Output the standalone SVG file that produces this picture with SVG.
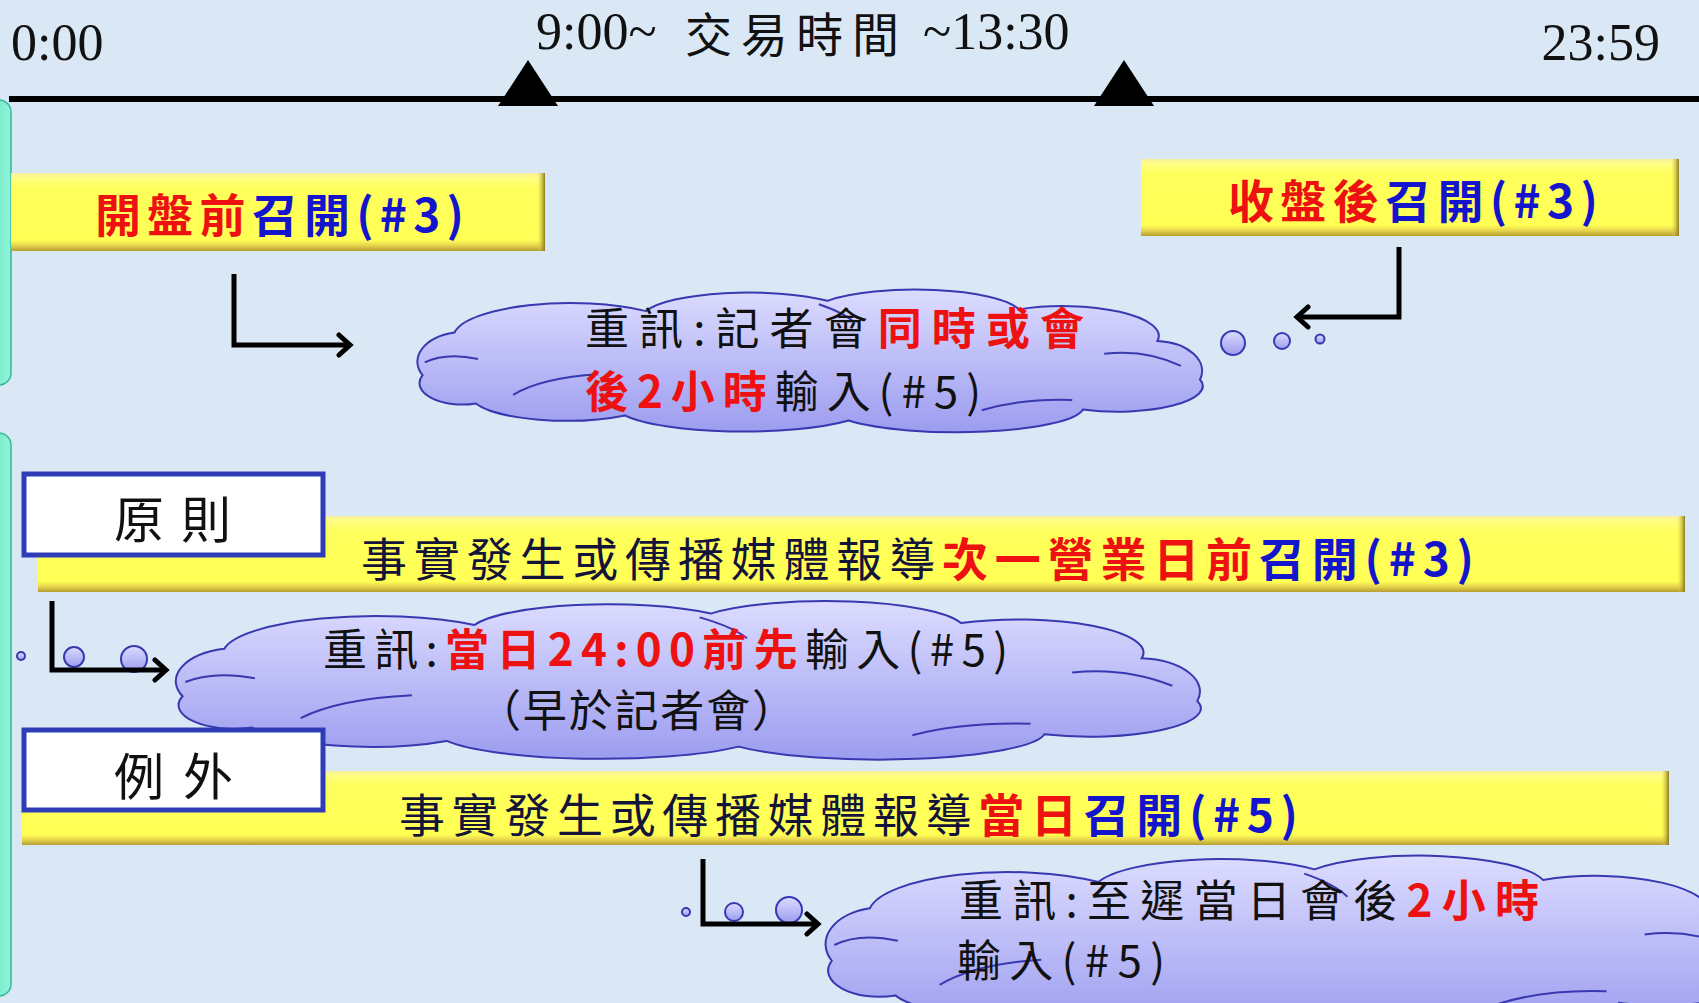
<svg xmlns="http://www.w3.org/2000/svg" width="1699" height="1003" viewBox="0 0 1699 1003">
<style>
.lat{font-family:"Liberation Serif","Times New Roman",serif;fill:#111}
.cj{font-family:"Noto Sans CJK TC","Noto Sans CJK SC",sans-serif}
.red{fill:#ee1111}
.blue{fill:#1414cc}
.blk{fill:#111}
.navy{fill:#14143a}
.conn{fill:none;stroke:#000;stroke-width:5}
.lbl{fill:#fff;stroke:#2f3cb8;stroke-width:5}
.bub{fill:url(#cloudfill);stroke:#3838b0;stroke-width:2}
</style>
<defs>
<linearGradient id="cloudfill" x1="0" y1="0" x2="0" y2="1">
<stop offset="0" stop-color="#dcdcff"/>
<stop offset="1" stop-color="#9c9cf0"/>
</linearGradient>
<linearGradient id="teal" x1="0" y1="0" x2="1" y2="0">
<stop offset="0" stop-color="#5fe0bd"/>
<stop offset="1" stop-color="#8ff5d8"/>
</linearGradient>
<linearGradient id="ybar" x1="0" y1="0" x2="0" y2="1">
<stop offset="0" stop-color="#f6f0a0"/>
<stop offset="0.07" stop-color="#ffff80"/>
<stop offset="0.2" stop-color="#ffff5c"/>
<stop offset="0.86" stop-color="#ffff55"/>
<stop offset="0.93" stop-color="#e6d44e"/>
<stop offset="1" stop-color="#b59e30"/>
</linearGradient>
<linearGradient id="yedge" x1="0" y1="0" x2="1" y2="0">
<stop offset="0" stop-color="#e8dc50" stop-opacity="0"/>
<stop offset="1" stop-color="#8a7a20"/>
</linearGradient>
<path id="cloud" vector-effect="non-scaling-stroke" d="M 40,95 A 45 35 0 0 1 70,45 A 110 40 0 0 1 250,20 A 100 30 0 0 1 420,8 A 100 30 0 0 1 600,18 A 90 35 0 0 1 730,55 A 45 35 0 0 1 770,100 A 80 30 0 0 1 660,135 A 120 30 0 0 1 440,148 A 120 30 0 0 1 230,142 A 90 30 0 0 1 90,128 A 40 25 0 0 1 40,95 Z"/>
<path id="cloudin" vector-effect="non-scaling-stroke" fill="none" d="M 42,80 Q 62,68 92,76 M 125,118 Q 152,98 205,94 M 680,70 Q 718,64 752,84 M 565,136 Q 602,122 650,124 M 412,12 Q 436,22 446,34"/>
<marker id="chev" markerWidth="18" markerHeight="26" refX="14" refY="13" orient="auto" markerUnits="userSpaceOnUse">
<path d="M3,3 L14,13 L3,23" fill="none" stroke="#000" stroke-width="5" stroke-linecap="round"/>
</marker>
</defs>
<rect width="1699" height="1003" fill="#dae8f6"/>

<g id="side-panels">
<rect x="-20" y="100" width="31" height="285" rx="12" fill="url(#teal)" stroke="#36b898" stroke-width="1.5"/>
<rect x="-20" y="433" width="31" height="563" rx="12" fill="url(#teal)" stroke="#36b898" stroke-width="1.5"/>
</g>

<g id="timeline">
<line x1="9" y1="99" x2="1699" y2="99" stroke="#000" stroke-width="6"/>
<polygon points="498,106 528,60 558,106" fill="#000"/>
<polygon points="1094,106 1124,60 1154,106" fill="#000"/>
<text class="lat" x="11" y="60" font-size="52">0:00</text>
<text class="lat" x="1660" y="60" font-size="52" text-anchor="end">23:59</text>
<text class="lat" x="536" y="49" font-size="52">9:00~</text>
<text class="cj blk" x="685" y="52" font-size="47" textLength="214" lengthAdjust="spacing">交易時間</text>
<text class="lat" x="923" y="49" font-size="52">~13:30</text>
</g>

<g id="box-open">
<rect x="11" y="173" width="534" height="78" fill="url(#ybar)"/>
<rect x="537" y="173" width="8" height="78" fill="url(#yedge)"/>
<text class="cj" x="95" y="232" font-size="46" font-weight="bold" textLength="369" lengthAdjust="spacing"><tspan class="red">開盤前</tspan><tspan class="blue">召開(#3)</tspan></text>
</g>

<g id="box-close">
<rect x="1141" y="159" width="538" height="77" fill="url(#ybar)"/>
<rect x="1671" y="159" width="8" height="77" fill="url(#yedge)"/>
<text class="cj" x="1228" y="218" font-size="46" font-weight="bold" textLength="370" lengthAdjust="spacing"><tspan class="red">收盤後</tspan><tspan class="blue">召開(#3)</tspan></text>
</g>

<g id="cloud-1">
<use href="#cloud" class="bub" transform="translate(380,294) scale(1.065,0.855)"/>
<use href="#cloudin" stroke="#3838b0" stroke-width="2" transform="translate(380,294) scale(1.065,0.855)"/>
<circle class="bub" cx="1233" cy="343" r="12"/>
<circle class="bub" cx="1282" cy="341" r="8"/>
<circle class="bub" cx="1320" cy="339" r="4.5"/>
<text class="cj" x="585" y="345" font-size="44" textLength="499" lengthAdjust="spacing"><tspan class="blk">重訊:記者會</tspan><tspan class="red" font-weight="bold">同時或會</tspan></text>
<text class="cj" x="585" y="408" font-size="44" textLength="396" lengthAdjust="spacing"><tspan class="red" font-weight="bold">後2小時</tspan><tspan class="blk">輸入(#5)</tspan></text>
</g>

<g id="bar-principle">
<rect x="38" y="516" width="1647" height="76" fill="url(#ybar)"/>
<rect x="1677" y="516" width="8" height="76" fill="url(#yedge)"/>
<text class="cj" x="361" y="576" font-size="46" textLength="1113" lengthAdjust="spacing"><tspan class="navy">事實發生或傳播媒體報導</tspan><tspan class="red" font-weight="bold">次一營業日前</tspan><tspan class="blue" font-weight="bold">召開(#3)</tspan></text>
</g>

<g id="label-principle">
<rect class="lbl" x="24" y="474" width="299" height="81"/>
<text class="cj blk" x="114" y="538" font-size="50" textLength="117" lengthAdjust="spacing">原則</text>
</g>

<g id="cloud-2">
<circle class="bub" cx="21" cy="656" r="4"/>
<circle class="bub" cx="74" cy="657" r="10"/>
<circle class="bub" cx="134" cy="659" r="13"/>
<use href="#cloud" class="bub" transform="translate(127,606) scale(1.39,0.95)"/>
<use href="#cloudin" stroke="#3838b0" stroke-width="2" transform="translate(127,606) scale(1.39,0.95)"/>
<text class="cj" x="323" y="666" font-size="44" textLength="685" lengthAdjust="spacing"><tspan class="blk">重訊:</tspan><tspan class="red" font-weight="bold">當日24:00前先</tspan><tspan class="blk">輸入(#5)</tspan></text>
<text class="cj blk" x="477" y="727" font-size="44" textLength="319" lengthAdjust="spacing">（早於記者會）</text>
</g>

<g id="bar-exception">
<rect x="22" y="771" width="1647" height="74" fill="url(#ybar)"/>
<rect x="1661" y="771" width="8" height="74" fill="url(#yedge)"/>
<text class="cj" x="399" y="832" font-size="46" textLength="899" lengthAdjust="spacing"><tspan class="navy">事實發生或傳播媒體報導</tspan><tspan class="red" font-weight="bold">當日</tspan><tspan class="blue" font-weight="bold">召開(#5)</tspan></text>
</g>

<g id="label-exception">
<rect class="lbl" x="24" y="730" width="299" height="80"/>
<text class="cj blk" x="114" y="795" font-size="50" textLength="119" lengthAdjust="spacing">例外</text>
</g>

<g id="cloud-3">
<circle class="bub" cx="686" cy="912" r="4"/>
<circle class="bub" cx="734" cy="912" r="9"/>
<circle class="bub" cx="789" cy="910" r="13"/>
<use href="#cloud" class="bub" transform="translate(781,861) scale(1.27,1.05)"/>
<use href="#cloudin" stroke="#3838b0" stroke-width="2" transform="translate(781,861) scale(1.27,1.05)"/>
<text class="cj" x="959" y="917" font-size="44" textLength="580" lengthAdjust="spacing"><tspan class="blk">重訊:至遲當日會後</tspan><tspan class="red" font-weight="bold">2小時</tspan></text>
<text class="cj blk" x="957" y="977" font-size="44" textLength="208" lengthAdjust="spacing">輸入(#5)</text>
</g>

<g id="connectors">
<path class="conn" d="M234,274 V345 H350" marker-end="url(#chev)"/>
<path class="conn" d="M1399,247 V317 H1297" marker-end="url(#chev)"/>
<path class="conn" d="M52,601 V670 H166" marker-end="url(#chev)"/>
<path class="conn" d="M703,859 V924 H818" marker-end="url(#chev)"/>
</g>
</svg>
